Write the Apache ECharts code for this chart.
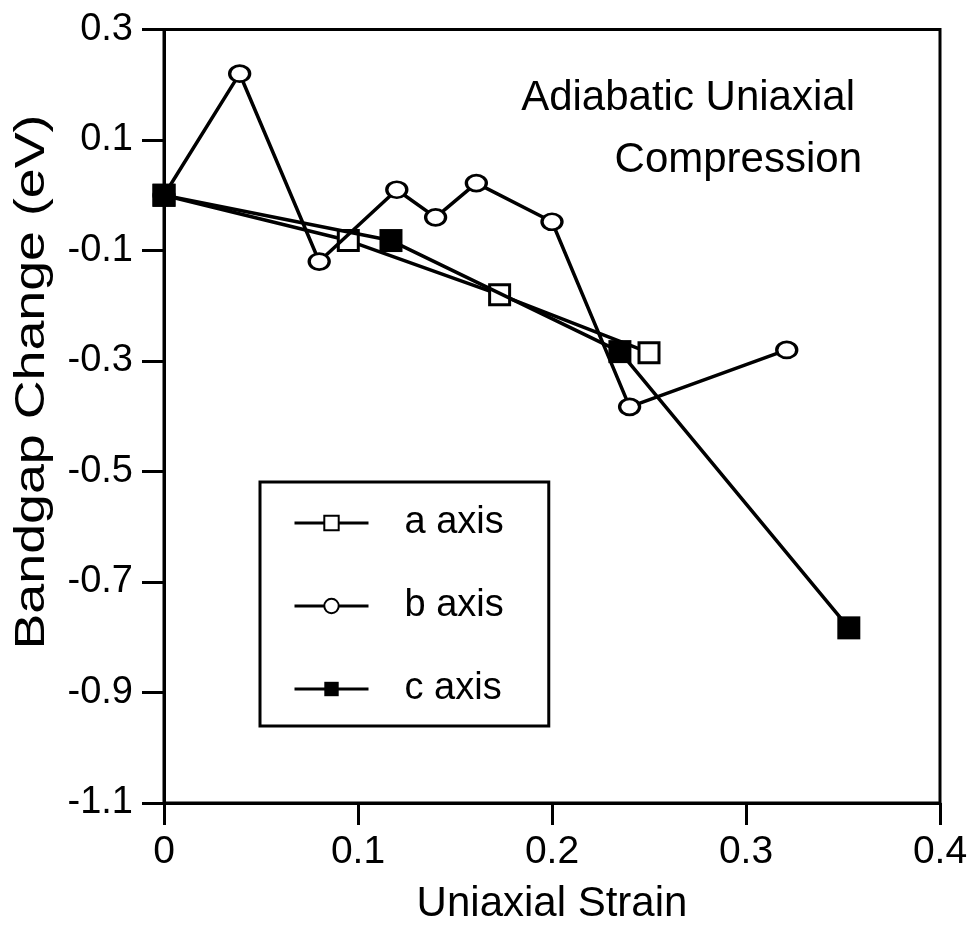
<!DOCTYPE html>
<html>
<head>
<meta charset="utf-8">
<script src="https://cdn.jsdelivr.net/npm/echarts@6/dist/echarts.min.js"></script>
<style>
  html, body { margin: 0; padding: 0; background: #fff; }
  #chart { width: 972px; height: 930px; }
</style>
</head>
<body>
<div id="chart"></div>
<script>
// Bandgap change under adiabatic uniaxial compression along each crystal axis
const seriesNames = ['a axis', 'b axis', 'c axis'];

// [strain, bandgap change (eV)]
const aAxis = [[0, 0], [0.095, -0.082], [0.173, -0.18], [0.25, -0.285]];
const bAxis = [[0, 0], [0.039, 0.22], [0.08, -0.12], [0.12, 0.01], [0.14, -0.04],
               [0.161, 0.022], [0.2, -0.048], [0.24, -0.383], [0.321, -0.28]];
const cAxis = [[0, 0], [0.117, -0.082], [0.235, -0.283], [0.353, -0.783]];

const xTicks = [0, 0.1, 0.2, 0.3, 0.4];
const yTicks = [-1.1, -0.9, -0.7, -0.5, -0.3, -0.1, 0.1, 0.3];

const titleLines = ['Adiabatic Uniaxial', 'Compression'];
const xTitle = 'Uniaxial Strain';
const yTitle = 'Bandgap Change (eV)';

const FONT = 'Liberation Sans, Arial, Helvetica, sans-serif';

const chart = echarts.init(document.getElementById('chart'), null, { renderer: 'canvas' });

const lineStyle = { color: '#000', width: 3.5 };

chart.setOption({
  animation: false,
  backgroundColor: '#fff',
  textStyle: { fontFamily: FONT, color: '#000' },
  grid: {
    left: 164, top: 29.5, right: 32, bottom: 127,
    outerBoundsMode: 'none', containLabel: false,
    show: true, borderColor: '#000', borderWidth: 3, backgroundColor: 'transparent'
  },
  graphic: [
    // two-line annotation in the upper right of the plot
    {
      type: 'text', x: 855, y: 98, z: 10,
      style: { text: titleLines[0], fill: '#000', font: '42px ' + FONT, textAlign: 'right', textVerticalAlign: 'middle' }
    },
    {
      type: 'text', x: 862, y: 160, z: 10,
      style: { text: titleLines[1], fill: '#000', font: '42px ' + FONT, textAlign: 'right', textVerticalAlign: 'middle' }
    },
    // vertical axis title, drawn slightly elongated along its reading direction
    {
      type: 'text', x: 32, y: 382, rotation: Math.PI / 2, scaleX: 1.28, z: 10,
      style: { text: yTitle, fill: '#000', font: '42px ' + FONT, textAlign: 'center', textVerticalAlign: 'middle' }
    }
  ],
  legend: {
    orient: 'vertical',
    left: 260, top: 482,
    padding: [21, 45, 17, 33],
    borderColor: '#000', borderWidth: 3,
    itemWidth: 74, itemHeight: 18, itemGap: 43,
    lineStyle: { width: 3, color: '#000' },
    textStyle: { fontFamily: FONT, fontSize: 38, color: '#000', lineHeight: 40, padding: [0, 0, 0, 31] },
    data: seriesNames
  },
  xAxis: {
    type: 'value', min: 0, max: 0.4, interval: 0.1,
    name: xTitle, nameLocation: 'middle', nameGap: 80,
    nameTextStyle: { fontFamily: FONT, fontSize: 42, color: '#000' },
    axisLine: { show: true, onZero: false, lineStyle: { color: '#000', width: 3 } },
    axisTick: { show: true, length: 22, inside: false, lineStyle: { color: '#000', width: 3 } },
    axisLabel: {
      fontFamily: FONT, fontSize: 39, color: '#000', margin: 30,
      formatter: v => {
        const t = xTicks.find(x => Math.abs(x - v) < 1e-9);
        return t === undefined ? '' : String(t);
      }
    },
    splitLine: { show: false }
  },
  yAxis: {
    type: 'value', min: -1.1, max: 0.3, interval: 0.2,
    axisLine: { show: true, onZero: false, lineStyle: { color: '#000', width: 3 } },
    axisTick: { show: true, length: 22, inside: false, lineStyle: { color: '#000', width: 3 } },
    axisLabel: {
      fontFamily: FONT, fontSize: 38, color: '#000', margin: 31,
      formatter: v => {
        const t = yTicks.find(y => Math.abs(y - v) < 1e-9);
        return t === undefined ? '' : String(t);
      }
    },
    splitLine: { show: false }
  },
  series: [
    {
      name: seriesNames[0], type: 'line', data: aAxis,
      symbol: 'rect', symbolSize: 20, showAllSymbol: true,
      lineStyle: lineStyle,
      itemStyle: { color: '#fff', borderColor: '#000', borderWidth: 3 },
      emphasis: { disabled: true }, z: 2
    },
    {
      name: seriesNames[1], type: 'line', data: bAxis,
      symbol: 'circle', symbolSize: [20, 16], showAllSymbol: true,
      lineStyle: lineStyle,
      itemStyle: { color: '#fff', borderColor: '#000', borderWidth: 3 },
      emphasis: { disabled: true }, z: 3
    },
    {
      name: seriesNames[2], type: 'line', data: cAxis,
      symbol: 'rect', symbolSize: 23, showAllSymbol: true,
      lineStyle: lineStyle,
      itemStyle: { color: '#000', borderColor: '#000', borderWidth: 0 },
      emphasis: { disabled: true }, z: 4
    }
  ]
});
</script>
</body>
</html>
